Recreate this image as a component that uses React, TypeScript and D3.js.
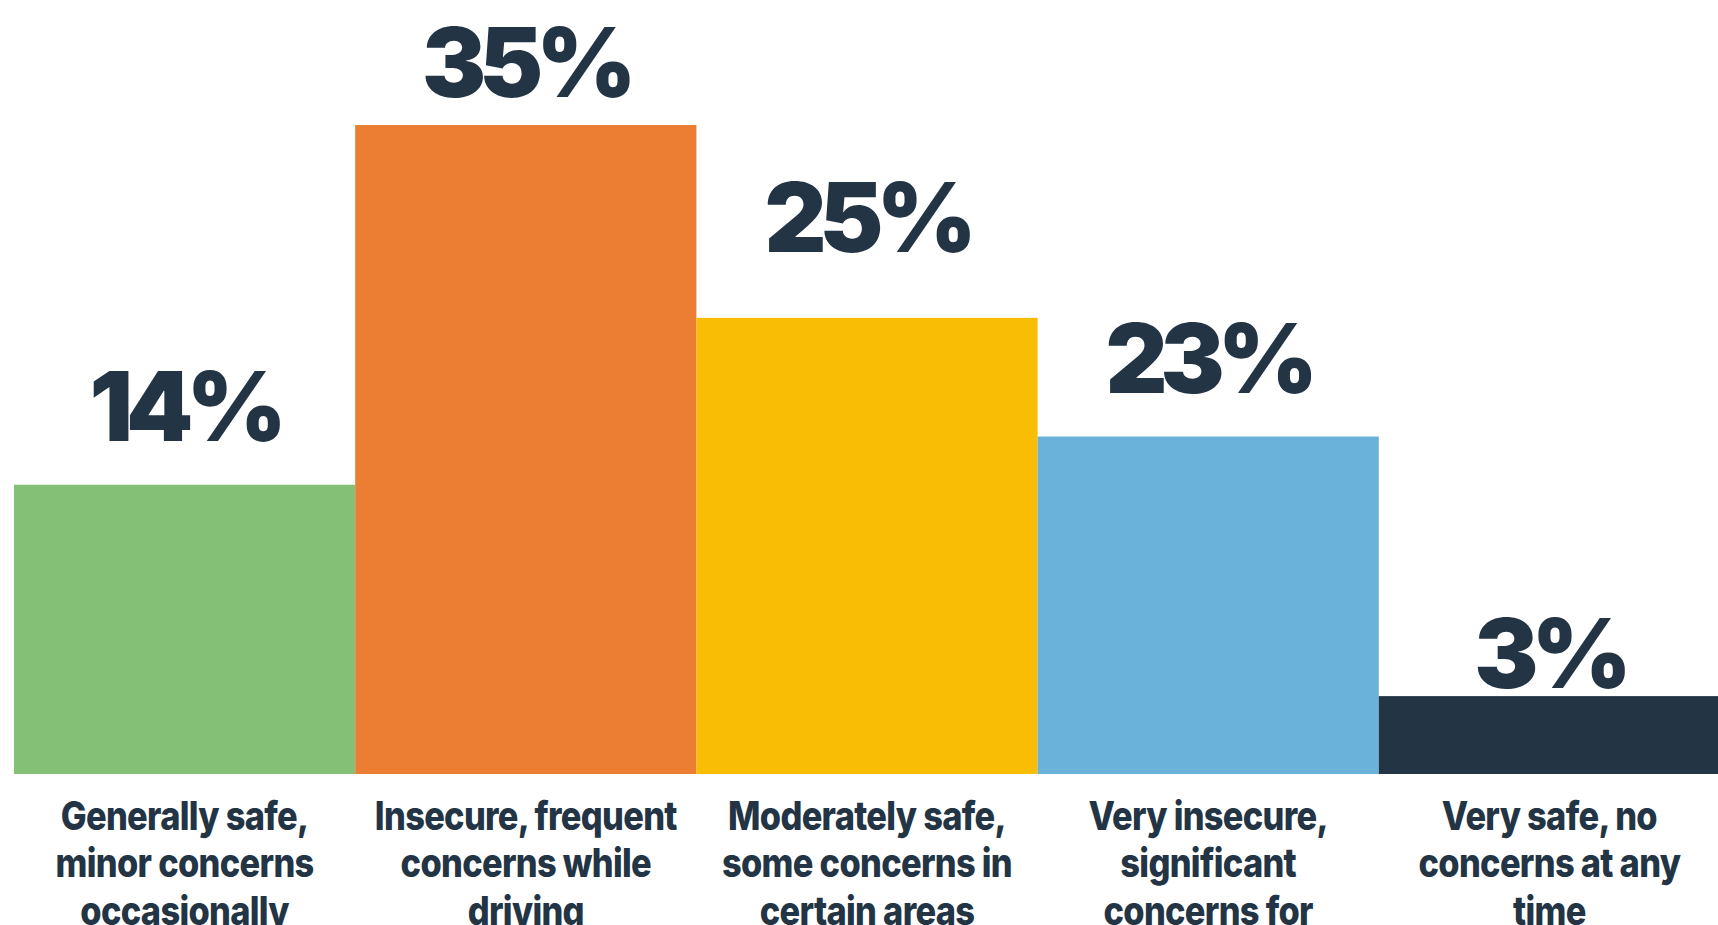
import React from "react";
import * as d3 from "d3";

const categories = [
  "Generally safe,\nminor concerns\noccasionally",
  "Insecure, frequent\nconcerns while\ndriving",
  "Moderately safe,\nsome concerns in\ncertain areas",
  "Very insecure,\nsignificant\nconcerns for",
  "Very safe, no\nconcerns at any\ntime",
];
const shareLabels = ["14%", "35%", "25%", "23%", "3%"];
const barLengths = [15.6, 35, 24.6, 18.2, 4.2];
const labelLevels = [17.96, 36.5, 28.15, 20.55, 4.64];
const colors = ["#84C076", "#EC7E33", "#F8BD04", "#6BB2DA", "#233445"];

const W = 1718;
const H = 925;
const INK = "#233445";

export default function App() {
  const x = d3.scaleBand<number>().domain(d3.range(categories.length)).range([14, 1720]).paddingInner(0).paddingOuter(0);
  const y = d3.scaleLinear().domain([0, 35]).range([774, 125]);
  const bw = x.bandwidth();
  return (
    <svg width={W} height={H} style={{ position: "absolute", left: 0, top: 0, background: "#fff" }}>
      {barLengths.map((v, i) => (
        <rect key={"b" + i} x={x(i)!} y={y(v)} width={bw} height={y(0) - y(v)} fill={colors[i]} />
      ))}
      {shareLabels.map((t, i) => (
        <text
          key={"l" + i}
          x={x(i)! + bw / 2}
          y={y(labelLevels[i])}
          textAnchor="middle"
          fontFamily="Inter, 'Noto Sans', sans-serif"
          fontWeight={900}
          fontSize={96}
          letterSpacing={-7}
          fill={INK}
        >
          {t}
        </text>
      ))}
      {categories.map((c, i) => (
        <g key={"c" + i} transform={`translate(${x(i)! + bw / 2},0) scale(0.86,1)`}>
          {c.split("\n").map((line, j) => (
            <text
              key={j}
              x={0}
              y={830 + j * 47.5}
              textAnchor="middle"
              fontFamily="Inter, Roboto, sans-serif"
              fontWeight={800}
              fontSize={40}
              letterSpacing={-0.8}
              fill={INK}
            >
              {line}
            </text>
          ))}
        </g>
      ))}
    </svg>
  );
}
